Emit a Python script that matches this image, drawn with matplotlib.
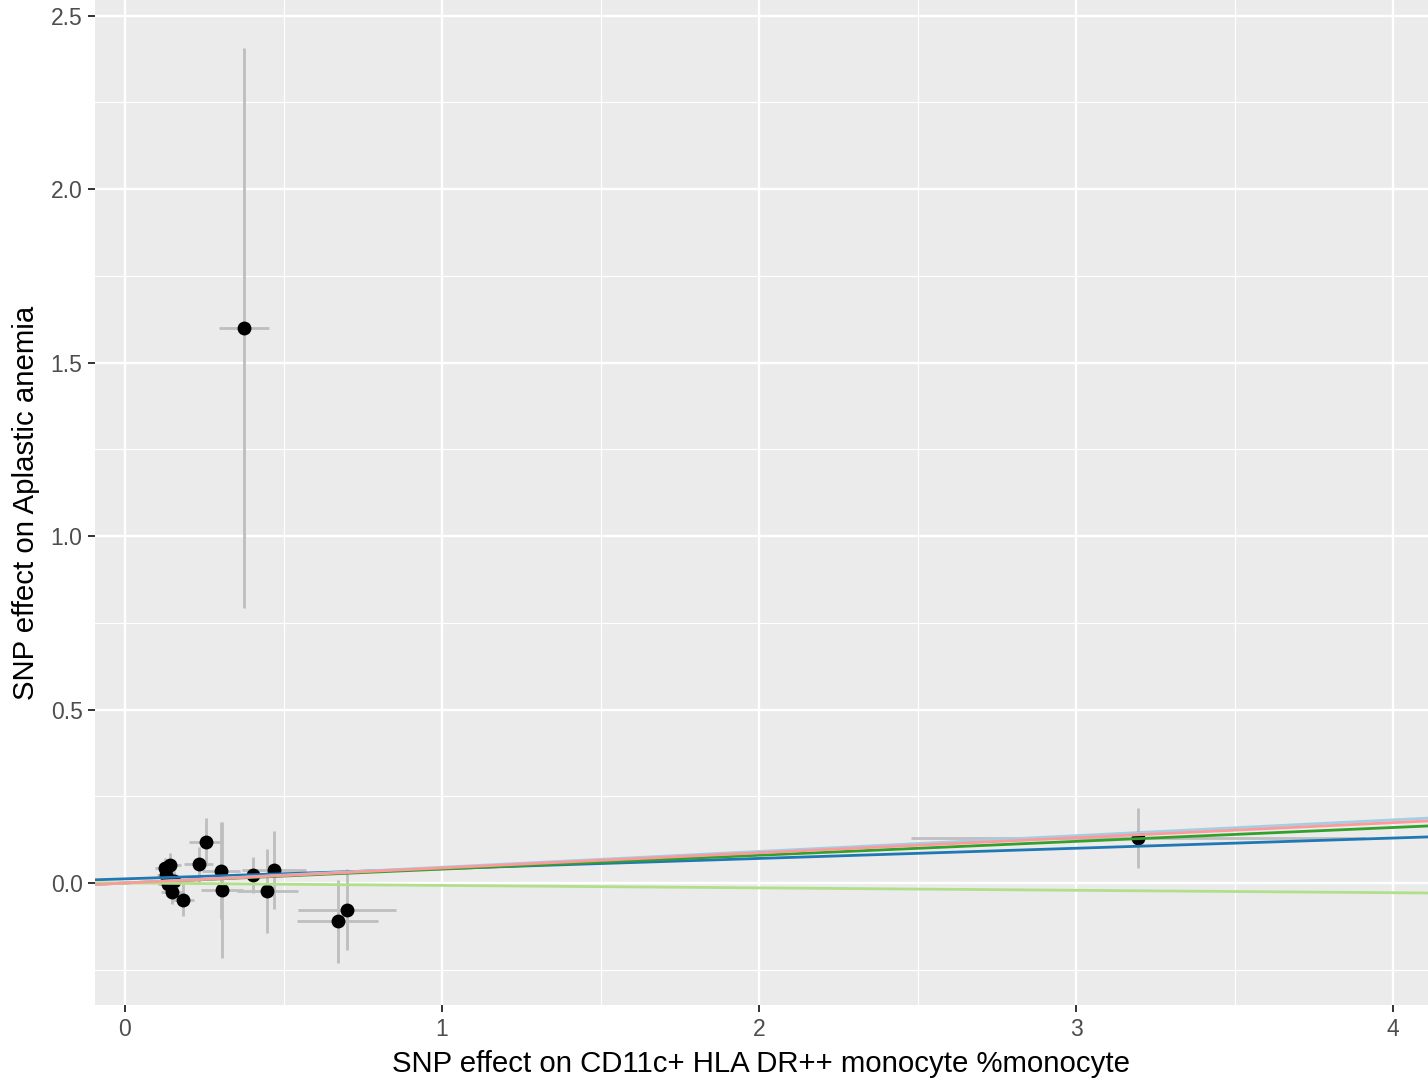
import matplotlib
matplotlib.use("Agg")
import matplotlib.pyplot as plt
import numpy as np

plt.rcParams['font.family'] = ['Liberation Sans', 'DejaVu Sans']

# SNP effects on exposure (x) and outcome (y), with standard errors
beta_exp = [0.126, 0.143, 0.130, 0.135, 0.148, 0.182, 0.155, 0.256, 0.232,
            0.303, 0.305, 0.405, 0.470, 0.449, 0.700, 0.671, 0.375, 3.195]
beta_out = [0.042, 0.052, 0.022, -0.002, -0.026, -0.049, 0.005, 0.118, 0.054,
            0.036, -0.020, 0.023, 0.037, -0.023, -0.077, -0.110, 1.600, 0.130]
se_exp = [0.030, 0.035, 0.030, 0.030, 0.035, 0.035, 0.030, 0.054, 0.046,
          0.060, 0.066, 0.060, 0.100, 0.097, 0.155, 0.127, 0.080, 0.715]
se_out = [0.030, 0.035, 0.030, 0.030, 0.035, 0.047, 0.030, 0.069, 0.050,
          0.140, 0.196, 0.053, 0.113, 0.120, 0.117, 0.120, 0.808, 0.087]

# MR method fits (intercept, slope) in data-frame order
methods = ["MR Egger", "Weighted median", "Inverse variance weighted",
           "Simple mode", "Weighted mode"]
intercepts = [0.012, 0.0, 0.0, 0.0, 0.0]
slopes = [0.0294, 0.0400, 0.0455, -0.0070, 0.0435]
colors = ["#1f78b4", "#33a02c", "#a6cee3", "#b2df8a", "#fb9a99"]

fig = plt.figure(figsize=(14.28, 10.82), dpi=100)
ax = fig.add_axes([95 / 1428, 1 - 1005 / 1082, 1333 / 1428, 1005 / 1082])
ax.set_facecolor("#EBEBEB")
for s in ax.spines.values():
    s.set_visible(False)

xlim = (-0.0946, 4.110)
ylim = (-0.3516, 2.545)
ax.set_xlim(xlim)
ax.set_ylim(ylim)

ax.set_xticks([0, 1, 2, 3, 4])
ax.set_xticks([0.5, 1.5, 2.5, 3.5], minor=True)
ax.set_yticks([0.0, 0.5, 1.0, 1.5, 2.0, 2.5])
ax.set_yticklabels(["0.0", "0.5", "1.0", "1.5", "2.0", "2.5"])
ax.set_yticks([-0.25, 0.25, 0.75, 1.25, 1.75, 2.25], minor=True)
ax.grid(which="major", color="white", lw=1.7)
ax.grid(which="minor", color="white", lw=0.85)
ax.set_axisbelow(True)
ax.tick_params(which="major", length=5, width=1.4, color="#333333",
               labelsize=16.5, labelcolor="#4D4D4D", pad=4)
ax.tick_params(which="minor", length=0)

# error bars then points then fitted lines
ax.errorbar(beta_exp, beta_out, yerr=se_out, fmt="none", ecolor="#BEBEBE",
            elinewidth=2.0, capsize=0, zorder=2)
ax.errorbar(beta_exp, beta_out, xerr=se_exp, fmt="none", ecolor="#BEBEBE",
            elinewidth=2.0, capsize=0, zorder=2)
ax.scatter(beta_exp, beta_out, s=100, color="black", zorder=3, linewidths=0)

xs = np.array(xlim)
for b0, b1, c in zip(intercepts, slopes, colors):
    ax.plot(xs, b0 + b1 * xs, color=c, lw=2.0, zorder=4)

ax.set_xlabel("SNP effect on CD11c+ HLA DR++ monocyte %monocyte",
              fontsize=21.2, labelpad=7)
ax.set_ylabel("SNP effect on Aplastic anemia", fontsize=21.2, labelpad=8)

fig.savefig("out.png", dpi=100)
